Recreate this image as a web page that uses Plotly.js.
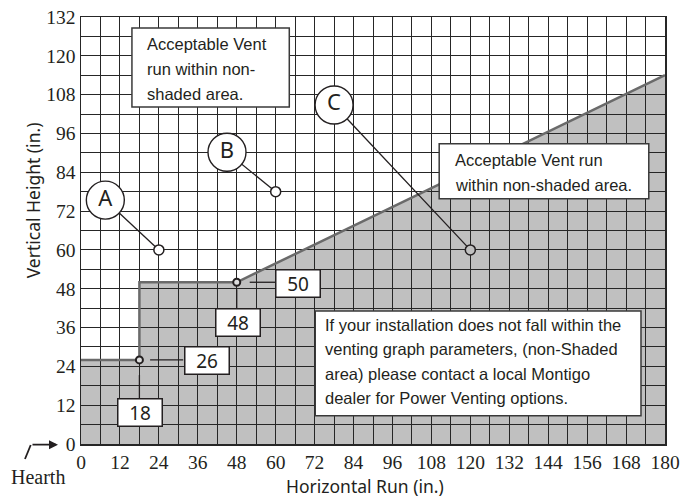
<!DOCTYPE html>
<html><head><meta charset="utf-8">
<script src="https://cdn.plot.ly/plotly-3.0.1.min.js"></script>
<style>html,body{margin:0;padding:0;background:#fff}</style>
</head><body><div id="chart" style="width:683px;height:500px"></div>
<script>
// ---------- data ----------
const xTickVals = [0,12,24,36,48,60,72,84,96,108,120,132,144,156,168,180];
const yTickVals = [0,12,24,36,48,60,72,84,96,108,120,132];
const boundaryX = [0,18,18,48,180];
const boundaryY = [26,26,50,50,114];
const pointNames = ['A','B','C'];
const pointX = [24,60,120];
const pointY = [60,78,60];
const stepX = [18,48];
const stepY = [26,50];
const note1Lines = ['Acceptable Vent','run within non-','shaded area.'];
const note2Lines = ['Acceptable Vent run','within non-shaded area.'];
const note3Lines = ['If your installation does not fall within the','venting graph parameters, (non-Shaded','area) please contact a local Montigo','dealer for Power Venting options.'];

// ---------- styling / placement ----------
const INK = '#231f20';
const GRAY = '#c0c0c0';
const labelPosX = [7.5,45,78];
const labelPosY = [75.4,90.2,104.8];
const pointFill = ['#ffffff','#ffffff',GRAY];
const stepXLabelPos = [[18.1,9.7],[48.3,37.6]];
const stepYLabelPos = [[38.7,25.7],[66.8,49.6]];
const sans = 'Noto Sans, Open Sans, sans-serif';
const arial = 'Liberation Sans, Arial, sans-serif';
const serif = 'Liberation Serif, Times New Roman, serif';

// shaded area path built from boundary arrays
let path = 'M ' + boundaryX[0] + ',0';
for (let i = 0; i < boundaryX.length; i++) path += ' L ' + boundaryX[i] + ',' + boundaryY[i];
path += ' L ' + boundaryX[boundaryX.length-1] + ',0 Z';

const traces = [];
traces.push({x: boundaryX, y: boundaryY, mode: 'lines', line: {color: '#6a6a6a', width: 2.5}, hoverinfo: 'skip', showlegend: false});
// leader lines from labels to points
const lx = [], ly = [];
for (let i = 0; i < pointX.length; i++) { lx.push(labelPosX[i], pointX[i], null); ly.push(labelPosY[i], pointY[i], null); }
traces.push({x: lx, y: ly, mode: 'lines', line: {color: INK, width: 1.3}, hoverinfo: 'skip', showlegend: false});
traces.push({x: labelPosX, y: labelPosY, mode: 'markers+text', text: pointNames, textposition: 'middle center',
  textfont: {family: sans, size: 22, color: INK},
  marker: {size: 38, color: '#fff', line: {color: INK, width: 1.4}}, hoverinfo: 'skip', showlegend: false});
traces.push({x: pointX, y: pointY, mode: 'markers', marker: {size: 10, color: pointFill, line: {color: INK, width: 1.5}}, showlegend: false});
traces.push({x: stepX, y: stepY, mode: 'markers', marker: {size: 7, color: '#ddd', line: {color: INK, width: 2}}, showlegend: false});

const shapes = [
  {type: 'path', path: path, xref: 'x', yref: 'y', layer: 'below', fillcolor: GRAY, line: {width: 0}},
  // leader lines for step labels
  {type: 'line', xref: 'x', yref: 'y', x0: stepX[0]+3.3, x1: 31.5, y0: stepY[0], y1: stepY[0], line: {color: INK, width: 1.3}},
  {type: 'line', xref: 'x', yref: 'y', x0: stepX[0], x1: stepX[0], y0: stepY[0]-4.7, y1: 14.2, line: {color: INK, width: 1.3}},
  {type: 'line', xref: 'x', yref: 'y', x0: stepX[1]+4, x1: 60, y0: stepY[1], y1: stepY[1], line: {color: INK, width: 1.3}},
  {type: 'line', xref: 'x', yref: 'y', x0: stepX[1], x1: stepX[1], y0: stepY[1]-2.2, y1: 42, line: {color: INK, width: 1.3}},
  // note boxes
  {type: 'rect', xref: 'x', yref: 'y', x0: 15.7, x1: 64.2, y0: 104.2, y1: 128.6, fillcolor: '#fff', line: {color: '#3a3a3a', width: 1.5}, layer: 'above'},
  {type: 'rect', xref: 'x', yref: 'y', x0: 110.4, x1: 175.0, y0: 75.8, y1: 92.8, fillcolor: '#fff', line: {color: '#3a3a3a', width: 1.5}, layer: 'above'},
  {type: 'rect', xref: 'x', yref: 'y', x0: 72.2, x1: 172.6, y0: 8.7, y1: 41.1, fillcolor: '#fff', line: {color: '#3a3a3a', width: 1.5}, layer: 'above'},
  // Hearth arrow stem
  {type: 'line', xref: 'paper', yref: 'paper', x0: -0.0959, y0: -0.0351, x1: -0.0861, y1: -0.0023, line: {color: INK, width: 1.8}}
];

const annotations = [];
function noteLines(lines, x, yTop, step) {
  lines.forEach((t, i) => annotations.push({text: t, x: x, y: yTop - i*step, xref: 'x', yref: 'y', xanchor: 'left', yanchor: 'middle',
    showarrow: false, font: {family: arial, size: 16.5, color: INK}}));
}
noteLines(note1Lines, 19.8, 123.7, 7.75);
noteLines(note2Lines, 114.7, 87.8, 7.7);
noteLines(note3Lines, 74.6, 36.8, 7.57);
function valueBox(v, pos) {
  annotations.push({text: String(v), x: pos[0], y: pos[1], xref: 'x', yref: 'y', showarrow: false, xanchor: 'center', yanchor: 'middle',
    font: {family: sans, size: 19, color: INK}, bgcolor: '#fff', bordercolor: INK, borderwidth: 1.5, borderpad: 1, width: 41, height: 24});
}
stepX.forEach((v, i) => valueBox(v, stepXLabelPos[i]));
stepY.forEach((v, i) => valueBox(v, stepYLabelPos[i]));
// axis titles
annotations.push({text: 'Horizontal Run (in.)', xref: 'paper', yref: 'paper', x: 0.486, y: -0.099, xanchor: 'center', yanchor: 'middle', showarrow: false, font: {family: sans, size: 17.5, color: INK}});
annotations.push({text: 'Vertical Height (in.)', xref: 'paper', yref: 'paper', x: -0.082, y: 0.571, xanchor: 'center', yanchor: 'middle', textangle: -90, showarrow: false, font: {family: sans, size: 17.5, color: INK}});
annotations.push({text: 'Hearth', xref: 'paper', yref: 'paper', x: -0.0736, y: -0.077, xanchor: 'center', yanchor: 'middle', showarrow: false, font: {family: serif, size: 20, color: INK}});
annotations.push({text: '', xref: 'paper', yref: 'paper', x: -0.0394, y: -0.0015, ax: -27, ay: 0, showarrow: true, arrowhead: 2, arrowsize: 1, arrowwidth: 1.8, arrowcolor: INK});

const axisCommon = {showgrid: true, gridcolor: '#262626', gridwidth: 1, showline: true, linecolor: '#262626', linewidth: 1.5, mirror: true,
  zeroline: false, ticks: '', tickfont: {family: serif, size: 19.5, color: INK}, fixedrange: true};
const layout = {
  width: 683, height: 500, margin: {l: 81, r: 18, t: 17, b: 56},
  paper_bgcolor: '#fff', plot_bgcolor: '#fff', showlegend: false,
  xaxis: Object.assign({}, axisCommon, {range: [0,180], tickmode: 'array', tickvals: xTickVals, ticktext: xTickVals.map(String),
    minor: {dtick: 6, tick0: 0, showgrid: true, gridcolor: '#262626', gridwidth: 1}}),
  yaxis: Object.assign({}, axisCommon, {range: [0,132], tickmode: 'array', tickvals: yTickVals, ticktext: yTickVals.map(String),
    minor: {dtick: 6, tick0: 0, showgrid: true, gridcolor: '#262626', gridwidth: 1}}),
  shapes: shapes, annotations: annotations
};
Plotly.newPlot('chart', traces, layout, {displayModeBar: false, staticPlot: true});
</script></body></html>
